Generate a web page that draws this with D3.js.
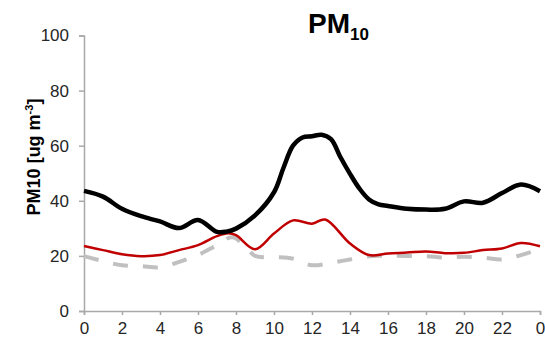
<!DOCTYPE html>
<html>
<head>
<meta charset="utf-8">
<script src="https://cdn.jsdelivr.net/npm/d3@7"></script>
<style>
  body { margin: 0; background: #fff; }
  svg { display: block; font-family: "Liberation Sans", Arial, sans-serif; }
</style>
</head>
<body>
<svg id="chart" width="545" height="340"></svg>
<script>
// hourly profile
const xTicks = [0, 2, 4, 6, 8, 10, 12, 14, 16, 18, 20, 22, 24];
const yTicks = [0, 20, 40, 60, 80, 100];

const blackHours = [0, 1, 2, 3, 4, 5, 6, 7, 7.5, 8, 9, 10, 10.5, 11, 11.5, 12, 12.5, 13, 13.5, 14, 14.5, 15, 15.5, 16, 17, 18, 19, 20, 21, 22, 23, 24];
const blackVals  = [43.6, 41.5, 37.1, 34.4, 32.5, 30.1, 33.0, 28.7, 28.8, 29.9, 34.7, 43.1, 52.0, 60.0, 63.0, 63.4, 64.0, 62.4, 55.8, 49.8, 44.4, 40.5, 38.7, 38.1, 37.1, 36.8, 37.1, 39.8, 39.3, 42.8, 45.9, 43.5];

const redHours = [0, 1, 2, 3, 4, 5, 6, 7, 7.6, 8, 9, 10, 11, 12, 12.7, 14, 15, 16, 17, 18, 19, 20, 21, 22, 23, 24];
const redVals  = [23.6, 22.1, 20.6, 19.9, 20.3, 22.1, 23.9, 27.2, 28.2, 27.5, 22.4, 28.1, 32.9, 31.7, 33.2, 24.5, 20.3, 20.9, 21.2, 21.6, 21.0, 21.1, 22.1, 22.7, 24.7, 23.5];

const greyHours = [0, 1, 2, 3, 4, 5, 6, 7, 7.8, 8.5, 9, 10, 11, 12, 13, 14, 15, 16, 17, 18, 19, 20, 21, 22, 23, 24];
const greyVals  = [19.9, 18.1, 16.6, 16.3, 15.8, 17.8, 20.3, 23.9, 26.8, 23.5, 20.0, 19.6, 19.0, 16.6, 17.5, 18.7, 19.9, 20.0, 20.0, 19.9, 19.4, 19.7, 19.4, 18.7, 20.3, 22.5];

const svg = d3.select("#chart");

const x = d3.scaleLinear().domain([0, 24]).range([84, 540]);
const y = d3.scaleLinear().domain([0, 100]).range([311, 35.5]);

const axisColor = "#a9a9a9";
const textColor = "#262626";

// y axis
const yAxis = svg.append("g")
    .attr("transform", "translate(84,0)")
    .call(d3.axisLeft(y).tickValues(yTicks).tickSize(5).tickPadding(10));
// x axis
const xAxis = svg.append("g")
    .attr("transform", "translate(0,311)")
    .call(d3.axisBottom(x).tickValues(xTicks).tickSize(4).tickPadding(7)
        .tickFormat(d => d % 24));

[yAxis, xAxis].forEach(g => {
    g.select(".domain").attr("stroke", axisColor).attr("stroke-width", 1.5);
    g.selectAll(".tick line").attr("stroke", axisColor).attr("stroke-width", 1.5);
    g.selectAll(".tick text")
        .attr("fill", textColor)
        .style("font-size", "17px");
});

const line = d3.line()
    .x(d => x(d[0]))
    .y(d => y(d[1]))
    .curve(d3.curveCatmullRom.alpha(0.5));

const pairs = (hs, vs) => hs.map((h, i) => [h, vs[i]]);

svg.append("path")
    .attr("d", line(pairs(greyHours, greyVals)))
    .attr("fill", "none")
    .attr("stroke", "#c0c0c0")
    .attr("stroke-width", 4)
    .attr("stroke-dasharray", "15,15");

svg.append("path")
    .attr("d", line(pairs(redHours, redVals)))
    .attr("fill", "none")
    .attr("stroke", "#c00000")
    .attr("stroke-width", 2.5);

svg.append("path")
    .attr("d", line(pairs(blackHours, blackVals)))
    .attr("fill", "none")
    .attr("stroke", "#000")
    .attr("stroke-width", 4.5)
    .attr("stroke-linejoin", "round");

// title
const title = svg.append("text")
    .attr("x", 308)
    .attr("y", 33)
    .attr("fill", "#000")
    .style("font-weight", "bold")
    .style("font-size", "28px");
title.append("tspan").text("PM");
title.append("tspan").attr("dy", 7).style("font-size", "17px").text("10");

// y label
const ylab = svg.append("text")
    .attr("transform", "translate(40,157) rotate(-90)")
    .attr("text-anchor", "middle")
    .attr("fill", "#000")
    .style("font-weight", "bold")
    .style("font-size", "18px");
ylab.append("tspan").text("PM10 [ug m");
ylab.append("tspan").attr("dy", -7).style("font-size", "11px").text("-3");
ylab.append("tspan").attr("dy", 7).text("]");
</script>
</body>
</html>
